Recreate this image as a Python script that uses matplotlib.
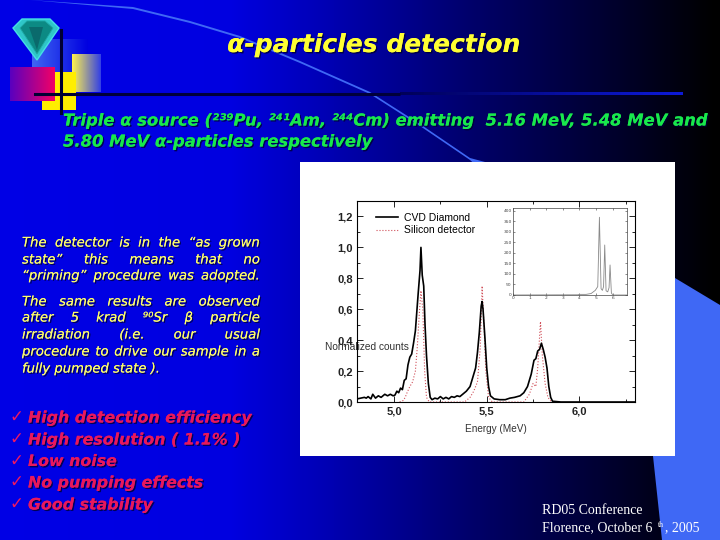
"""
Slide: alpha-particles detection, spectrum of a CVD diamond detector.
"""

import numpy as np
import matplotlib
matplotlib.use("Agg")
import matplotlib.pyplot as plt
import matplotlib.patheffects as pe
from matplotlib.patches import Polygon, Rectangle
from matplotlib.ticker import MultipleLocator, FuncFormatter


# =============================================================================
# Data
# =============================================================================

diamond_energy = [
    4.80, 4.82, 4.84, 4.85, 4.86, 4.875, 4.885, 4.90, 4.915, 4.93, 4.95, 4.965,
    4.98, 4.995, 5.005, 5.015, 5.025, 5.035, 5.045, 5.055, 5.065, 5.075, 5.085,
    5.095, 5.105, 5.115, 5.125, 5.13, 5.14, 5.145, 5.152, 5.16, 5.167, 5.175,
    5.185, 5.195, 5.205, 5.22, 5.235, 5.25, 5.265, 5.28, 5.295, 5.31, 5.325,
    5.34, 5.355, 5.37, 5.39, 5.41, 5.425, 5.44, 5.45, 5.46, 5.47, 5.475, 5.48,
    5.49, 5.50, 5.51, 5.52, 5.54, 5.57, 5.60, 5.625, 5.65, 5.68, 5.70, 5.72,
    5.74, 5.755, 5.765, 5.775, 5.785, 5.795, 5.805, 5.815, 5.825, 5.835, 5.845,
    5.855, 5.90, 6.30,
]
diamond_counts = [
    0.02, 0.025, 0.03, 0.025, 0.035, 0.02, 0.05, 0.025, 0.04, 0.03, 0.05, 0.04,
    0.05, 0.04, 0.045, 0.07, 0.06, 0.09, 0.08, 0.14, 0.15, 0.24, 0.29,
    0.31, 0.38, 0.46, 0.62, 0.70, 0.85, 1.00, 0.82, 0.75, 0.50, 0.30,
    0.12, 0.03, 0.015, 0.025, 0.02, 0.035, 0.02, 0.03, 0.02, 0.035, 0.03,
    0.04, 0.035, 0.05, 0.07, 0.10, 0.16, 0.22, 0.32, 0.45, 0.62, 0.65, 0.60,
    0.42, 0.22, 0.10, 0.04, 0.02, 0.015, 0.015, 0.025, 0.03, 0.04, 0.06, 0.10,
    0.18, 0.27, 0.28, 0.33, 0.34, 0.38, 0.34, 0.29, 0.22, 0.10, 0.03,
    0.005, 0.0, 0.0,
]

silicon_energy = [
    5.03, 5.05, 5.06, 5.07, 5.085, 5.10, 5.115, 5.125, 5.135, 5.145, 5.155,
    5.165, 5.175, 5.19, 5.38, 5.41, 5.43, 5.45, 5.465, 5.475, 5.485, 5.495,
    5.51, 5.53, 5.70, 5.73, 5.75, 5.765, 5.775, 5.79, 5.80, 5.815, 5.83, 5.85,
]
silicon_counts = [
    0.0, 0.01, 0.03, 0.06, 0.10, 0.13, 0.20, 0.35, 0.55, 0.72, 0.60,
    0.20, 0.03, 0.0, 0.0, 0.03, 0.07, 0.13, 0.35, 0.75, 0.50, 0.20,
    0.03, 0.0, 0.0, 0.05, 0.12, 0.10, 0.22, 0.52, 0.30, 0.12, 0.03, 0.0,
]

inset_energy = [
    0.0, 3.9, 4.0, 4.4, 4.7, 4.95, 5.1, 5.2, 5.3, 5.38, 5.45, 5.52, 5.6, 5.7,
    5.78, 5.84, 5.92, 6.0, 6.85,
]
inset_counts = [
    0, 1, 3, 3, 7, 22, 40, 370, 30, 22, 40, 238, 20, 15, 35, 143, 10, 0, 0,
]

main_y_ticks = [0.0, 0.2, 0.4, 0.6, 0.8, 1.0, 1.2]
main_x_ticks = [5.0, 5.5, 6.0]
inset_x_ticks = [0, 1, 2, 3, 4, 5, 6]
inset_y_ticks = [0, 50, 100, 150, 200, 250, 300, 350, 400]

title_text = "α-particles detection"
source_lines = [
    "Triple α source (²³⁹Pu, ²⁴¹Am, ²⁴⁴Cm) emitting  5.16 MeV, 5.48 MeV and",
    "5.80 MeV α-particles respectively",
]
note_lines = [
    ("The detector is in the “as grown", 243),
    ("state” this means that no", 260),
    ("“priming” procedure was adopted.", 276),
    ("The same results are observed", 302),
    ("after 5 krad ⁹⁰Sr β particle", 318),
    ("irradiation (i.e. our usual", 335),
    ("procedure to drive our sample in a", 352),
]
last_note = "fully pumped state )."
bullets = [
    "High detection efficiency",
    "High resolution ( 1.1% )",
    "Low noise",
    "No pumping effects",
    "Good stability",
]
bullet_rows = [418, 440, 461.5, 483, 505]


# =============================================================================
# Slide background, drawn in pixel coordinates
# =============================================================================

fig = plt.figure(figsize=(7.2, 5.4), dpi=100)

bg = fig.add_axes([0, 0, 1, 1])
bg.set_xlim(0, 720)
bg.set_ylim(540, 0)
bg.axis("off")


def gradient_rect(x0, x1, y0, y1, left, right, zorder=2):
    ramp = np.linspace(0, 1, 64)[None, :, None]
    colours = (1 - ramp) * np.array(left) + ramp * np.array(right)
    bg.imshow(colours, extent=(x0, x1, y1, y0), aspect="auto",
              interpolation="bilinear", zorder=zorder)


ramp_x = np.linspace(0, 720, 360)
ramp_blue = np.interp(ramp_x, [0, 230, 330, 470, 600, 715, 720],
                      [0.90, 0.88, 0.70, 0.42, 0.20, 0.0, 0.0])
sky = np.zeros((1, 360, 3))
sky[0, :, 2] = ramp_blue
bg.imshow(sky, extent=(0, 720, 540, 0), aspect="auto", zorder=0)
bg.set_xlim(0, 720)
bg.set_ylim(540, 0)

swoosh = [
    (30, 0), (133, 7), (190, 21), (240, 36), (300, 61), (370, 92), (420, 124),
    (470, 158), (485, 162), (675, 278), (720, 305), (720, 540), (662, 540),
    (653, 456), (620, 350), (560, 240), (470, 160), (420, 126), (370, 94),
    (300, 63), (240, 38), (190, 23), (133, 9),
]
bg.add_patch(Polygon(swoosh, closed=True, facecolor="#3f68f5", edgecolor="none",
                     zorder=1))

# header rule, black on the left and blue on the right
gradient_rect(400, 683, 93, 95.5, (0.0, 0.0, 0.35), (0.05, 0.1, 0.85), zorder=1.5)
bg.plot([35, 400], [94, 94], color="#00003a", lw=2.2, zorder=1.5,
        solid_capstyle="butt")

# logo
gradient_rect(32, 88, 39, 72, (0.25, 0.40, 0.95), (0.0, 0.0, 0.88))
gradient_rect(72, 101, 54, 92, (1.0, 0.95, 0.3), (0.2, 0.25, 0.9))
bg.add_patch(Rectangle((42, 72), 34, 38, facecolor="#ffee00", zorder=3))
gradient_rect(10, 55, 67, 101, (0.35, 0.0, 0.75), (0.95, 0.0, 0.40), zorder=4)
bg.plot([61, 61], [30, 113], color="#000033", lw=2.2, zorder=5)
bg.plot([35, 76], [94, 94], color="#000033", lw=2.2, zorder=5)
bg.add_patch(Polygon([(13, 28), (22, 19), (50, 19), (59, 28), (37, 60)],
                     closed=True, facecolor="#2fc6c8", edgecolor="#45e0e5",
                     lw=1.0, zorder=6))
bg.add_patch(Polygon([(20, 28), (27, 21), (45, 21), (53, 28), (37, 54)],
                     closed=True, facecolor="#0c8a84", edgecolor="#1fa9a5",
                     lw=0.6, zorder=7))
bg.add_patch(Polygon([(29, 27), (43, 27), (37, 50)],
                     closed=True, facecolor="#0a6a6c", edgecolor="none",
                     zorder=8))

# white panel behind the chart
bg.add_patch(Rectangle((300, 162), 375, 294, facecolor="white", zorder=2))


# =============================================================================
# Slide text
# =============================================================================

shadow = [pe.withSimplePatchShadow(offset=(1, -1), shadow_rgbFace="#000033",
                                   alpha=0.8), pe.Normal()]

bg.text(374, 45, title_text, color="#ffff33", fontsize=18, fontweight="bold",
        fontstyle="italic", ha="center", va="center", path_effects=shadow,
        zorder=10)

for line, row in zip(source_lines, [121, 142]):
    bg.text(63, row, line, color="#18e84c", fontsize=11.8, fontweight="bold",
            fontstyle="italic", ha="left", va="center", path_effects=shadow,
            zorder=10)

renderer = fig.canvas.get_renderer()
for line, row in note_lines:
    # the paragraphs are justified, so spread the words over the full width
    words = line.split()
    parts = [bg.text(0, row, word, color="#ffff66", fontsize=9.5,
                     fontstyle="italic", ha="left", va="center", zorder=10,
                     path_effects=shadow) for word in words]
    widths = [p.get_window_extent(renderer).width for p in parts]
    gap = (260 - 22 - sum(widths)) / (len(words) - 1)
    x = 22
    for part, width in zip(parts, widths):
        part.set_x(x)
        x += width + gap

bg.text(22, 369, last_note, color="#ffff66", fontsize=9.5, fontstyle="italic",
        ha="left", va="center", path_effects=shadow, zorder=10)

for label, row in zip(bullets, bullet_rows):
    bg.text(9, row - 1, "✓", color="#f01860", fontsize=12, ha="left",
            va="center", zorder=10)
    bg.text(28, row, label, color="#e8185c", fontsize=11.4, fontweight="bold",
            fontstyle="italic", ha="left", va="center", path_effects=shadow,
            zorder=10)

bg.text(542, 511, "RD05 Conference", color="white", fontsize=10,
        family="Liberation Serif", ha="left", va="center", zorder=10)
bg.text(542, 528, "Florence, October 6", color="white", fontsize=10,
        family="Liberation Serif", ha="left", va="center", zorder=10)
bg.text(658, 525, "th", color="white", fontsize=5.5,
        family="Liberation Serif", ha="left", va="center", zorder=10)
bg.text(665, 528, ", 2005", color="white", fontsize=10,
        family="Liberation Serif", ha="left", va="center", zorder=10)


# =============================================================================
# Main spectrum
# =============================================================================

def comma_format(value, position):
    return f"{value:.1f}".replace(".", ",")


ax = fig.add_axes([357 / 720, (540 - 402) / 540, 278 / 720, 201 / 540])
ax.patch.set_alpha(0)
ax.plot(silicon_energy, silicon_counts, color="#d0505a", lw=0.8, ls=":",
        label="Silicon detector")
ax.plot(diamond_energy, diamond_counts, color="black", lw=1.2,
        label="CVD Diamond")

ax.set_xlim(4.8, 6.3)
ax.set_ylim(0.0, 1.3)
ax.set_xticks(main_x_ticks)
ax.set_yticks(main_y_ticks)
ax.xaxis.set_minor_locator(MultipleLocator(0.25))
ax.yaxis.set_minor_locator(MultipleLocator(0.1))
ax.xaxis.set_major_formatter(FuncFormatter(comma_format))
ax.yaxis.set_major_formatter(FuncFormatter(comma_format))
ax.tick_params(which="both", direction="in", top=True, right=True,
               width=0.7, color="#222222")
ax.tick_params(which="major", length=4, labelsize=8, pad=3)
ax.tick_params(which="minor", length=2)
for label in ax.get_xticklabels() + ax.get_yticklabels():
    label.set_fontfamily("Liberation Sans")
    label.set_fontweight("bold")
    label.set_color("#222222")
for spine in ax.spines.values():
    spine.set_linewidth(0.8)
ax.set_xlabel("Energy (MeV)", fontsize=7.2, family="Liberation Sans",
              color="#333333", labelpad=6)

handles, labels = ax.get_legend_handles_labels()
ax.legend(handles[::-1], labels[::-1], loc="upper left",
          bbox_to_anchor=(0.068, 0.94), borderaxespad=0, frameon=False,
          handlelength=2.1, handletextpad=0.55, labelspacing=0.22, borderpad=0,
          prop={"family": "Liberation Sans", "size": 7.5})

bg.text(367, 347, "Normalized counts", color="#333333", fontsize=7.3,
        family="Liberation Sans", ha="center", va="center", zorder=10)


# =============================================================================
# Inset: full energy range
# =============================================================================

inset = fig.add_axes([513 / 720, (540 - 295) / 540, 114 / 720, 87 / 540])
inset.plot(inset_energy, inset_counts, color="#888888", lw=0.6)
inset.set_xlim(0, 6.86)
inset.set_ylim(0, 414)
inset.set_xticks(inset_x_ticks)
inset.set_yticks(inset_y_ticks)
inset.tick_params(direction="in", top=True, right=True, length=1.5, width=0.4,
                  labelsize=3.2, pad=1, color="#333333", labelcolor="#444444")
for spine in inset.spines.values():
    spine.set_linewidth(0.5)
    spine.set_color("#444444")

fig.savefig("out.png", dpi=100)
